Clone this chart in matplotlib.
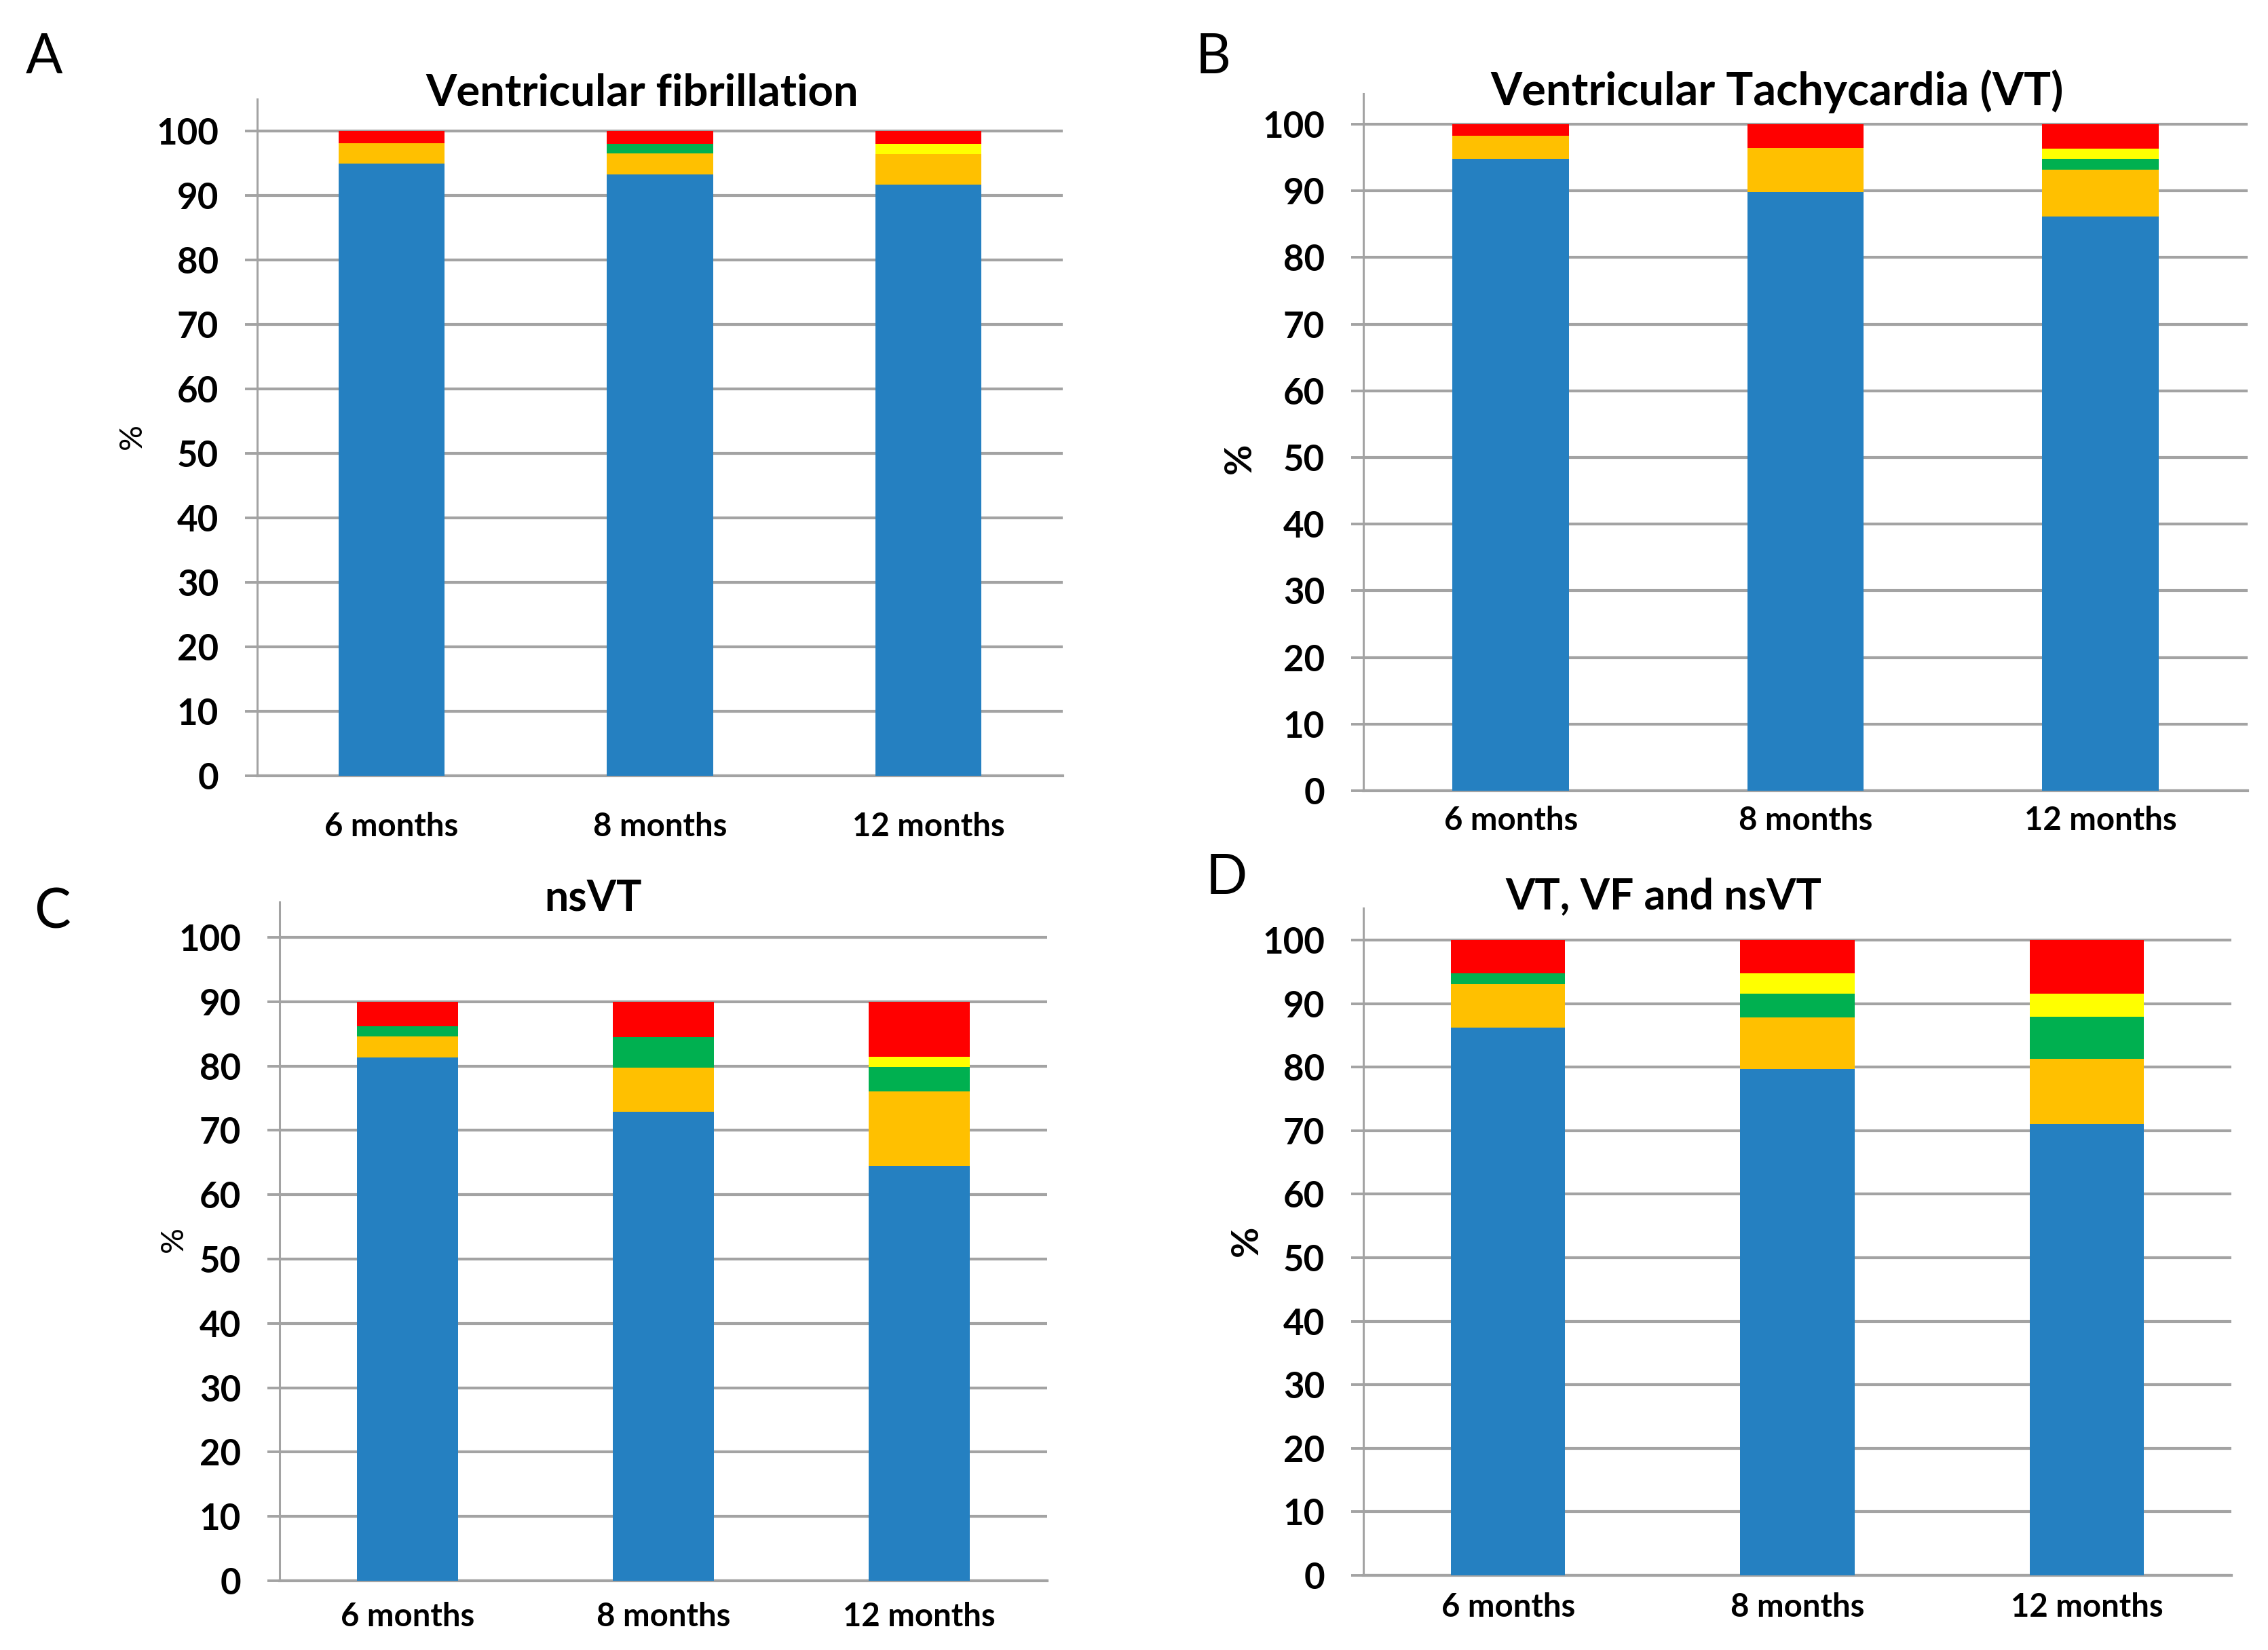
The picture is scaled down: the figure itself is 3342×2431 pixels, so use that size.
import matplotlib
matplotlib.use("Agg")
import matplotlib.pyplot as plt
import numpy as np

plt.rcParams['font.family'] = ['Lato', 'DejaVu Sans']

categories = ["6 months", "8 months", "12 months"]
yticks = list(range(0, 101, 10))
series_names = ["blue", "orange", "green", "yellow", "red"]
colors = ["#2580c1", "#ffc000", "#00b050", "#ffff00", "#ff0000"]

# Panel A: Ventricular fibrillation
a_blue = [94.9, 93.3, 91.7]
a_orange = [3.2, 3.2, 4.75]
a_green = [0.0, 1.5, 0.0]
a_yellow = [0.0, 0.0, 1.55]
a_red = [1.9, 2.0, 2.0]

# Panel B: Ventricular Tachycardia (VT)
b_blue = [94.8, 89.8, 86.2]
b_orange = [3.5, 6.6, 7.0]
b_green = [0.0, 0.0, 1.65]
b_yellow = [0.0, 0.0, 1.45]
b_red = [1.7, 3.6, 3.7]

# Panel C: nsVT
c_blue = [81.3, 72.9, 64.4]
c_orange = [3.25, 6.8, 11.7]
c_green = [1.6, 4.8, 3.7]
c_yellow = [0.0, 0.0, 1.6]
c_red = [3.85, 5.5, 8.6]

# Panel D: VT, VF and nsVT
d_blue = [86.2, 79.65, 71.0]
d_orange = [6.9, 8.2, 10.35]
d_green = [1.65, 3.7, 6.6]
d_yellow = [0.0, 3.25, 3.65]
d_red = [5.25, 5.2, 8.4]

W, H = 3342, 2431
fig = plt.figure(figsize=(W / 200, H / 200), dpi=200)

panels = [
    dict(letter="A", title="Ventricular fibrillation",
         data=[a_blue, a_orange, a_green, a_yellow, a_red],
         left=379, right=1566, y0=1143, y100=193, ytop=104.95,
         title_xy=(946, 155), title_size=23.5, letter_xy=(65, 108), pct_xy=(195, 643),
         pct_bold=False, pct_size=17, xpad=19),
    dict(letter="B", title="Ventricular Tachycardia (VT)",
         data=[b_blue, b_orange, b_green, b_yellow, b_red],
         left=2009, right=3312, y0=1165, y100=183, ytop=104.6,
         title_xy=(2619, 155), title_size=24, letter_xy=(1788, 108), pct_xy=(1827, 675),
         pct_bold=True, pct_size=20, xpad=8),
    dict(letter="C", title="nsVT",
         data=[c_blue, c_orange, c_green, c_yellow, c_red],
         left=412, right=1543, y0=2329, y100=1381, ytop=105.5,
         title_xy=(874, 1342), title_size=22.5, letter_xy=(77, 1368), pct_xy=(256, 1826),
         pct_bold=False, pct_size=17, xpad=11),
    dict(letter="D", title="VT, VF and nsVT",
         data=[d_blue, d_orange, d_green, d_yellow, d_red],
         left=2009, right=3288, y0=2321, y100=1385, ytop=105.0,
         title_xy=(2451, 1340), title_size=22.5, letter_xy=(1807, 1317), pct_xy=(1837, 1828),
         pct_bold=True, pct_size=20, xpad=9),
]

grid_color = "#a3a3a3"
x = np.arange(len(categories))

for p in panels:
    per_unit = (p["y0"] - p["y100"]) / 100.0
    bottom_px = p["y0"]
    top_px = p["y0"] - p["ytop"] * per_unit
    ax = fig.add_axes([p["left"] / W, 1 - bottom_px / H,
                       (p["right"] - p["left"]) / W, (bottom_px - top_px) / H])
    bottom = np.zeros(len(categories))
    for vals, col in zip(p["data"], colors):
        ax.bar(x, vals, width=0.395, bottom=bottom, color=col, linewidth=0, zorder=3)
        bottom += np.array(vals)
    ax.set_xlim(-0.5, 2.5)
    ax.set_ylim(0, p["ytop"])
    ax.set_yticks(yticks)
    ax.set_yticklabels([str(t) for t in yticks], fontsize=19, fontweight='bold')
    ax.set_xticks(x)
    ax.set_xticklabels(categories, fontsize=17, fontweight='bold')
    ax.tick_params(axis='x', length=0, pad=p["xpad"])
    ax.tick_params(axis='y', length=6.5, width=1.4, color=grid_color, pad=14)
    ax.yaxis.grid(True, color=grid_color, linewidth=1.5, zorder=0)
    ax.set_axisbelow(True)
    for s in ["top", "right"]:
        ax.spines[s].set_visible(False)
    ax.spines["left"].set_color(grid_color)
    ax.spines["left"].set_linewidth(1.1)
    ax.spines["bottom"].set_color(grid_color)
    ax.spines["bottom"].set_linewidth(1.5)

    fig.text(p["title_xy"][0] / W, 1 - p["title_xy"][1] / H, p["title"],
             ha='center', va='baseline', fontsize=p["title_size"], fontweight='bold')
    fig.text(p["letter_xy"][0] / W, 1 - p["letter_xy"][1] / H, p["letter"],
             ha='center', va='baseline', fontsize=29)
    fig.text(p["pct_xy"][0] / W, 1 - p["pct_xy"][1] / H, "%",
             ha='center', va='center', rotation=90, fontsize=p["pct_size"],
             fontweight='bold' if p["pct_bold"] else 'normal')

fig.savefig("out.png", dpi=200, facecolor="white")
